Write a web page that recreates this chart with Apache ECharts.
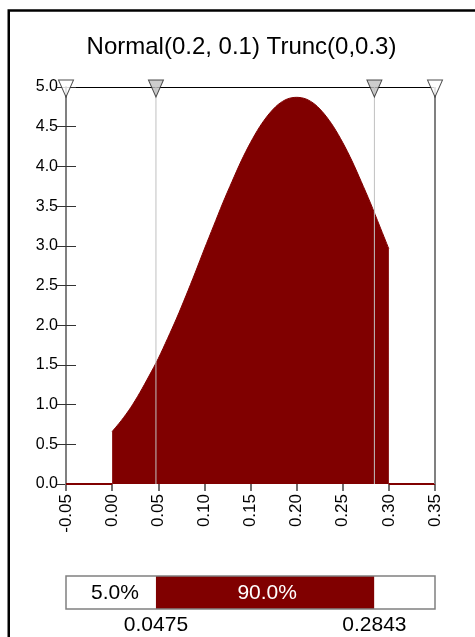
<!DOCTYPE html>
<html>
<head>
<meta charset="utf-8">
<script src="https://cdn.jsdelivr.net/npm/echarts@6/dist/echarts.min.js"></script>
<style>html,body{margin:0;padding:0;background:#fff}#c{width:475px;height:637px}</style>
</head>
<body>
<div id="c"></div>
<script>
const titleText = 'Normal(0.2, 0.1) Trunc(0,0.3)';
const xMin = -0.05, xMax = 0.35, xStep = 0.05;
const yMin = 0, yMax = 5, yStep = 0.5;
const densityX = [0.00,0.01,0.02,0.03,0.04,0.05,0.06,0.07,0.08,0.09,0.10,0.11,0.12,0.13,0.14,0.15,0.16,0.17,0.18,0.19,0.20,0.21,0.22,0.23,0.24,0.25,0.26,0.27,0.28,0.29,0.30];
const densityY = [0.66,0.80,0.96,1.15,1.36,1.58,1.83,2.09,2.37,2.66,2.96,3.25,3.54,3.81,4.07,4.30,4.50,4.66,4.78,4.85,4.87,4.85,4.78,4.66,4.50,4.30,4.07,3.81,3.54,3.25,2.96];
const baseLeft = [-0.05, 0.00];
const baseRight = [0.30, 0.35];
const percentileValues = [0.0475, 0.2843];
const endMarkers = [-0.05, 0.35];
const segmentPcts = ['5.0%', '90.0%', ''];

const RED = '#800000';
const FONT = '"Liberation Sans", Arial, sans-serif';

const curveData = densityX.map((x, i) => [x, densityY[i]]);
const segBounds = [xMin, percentileValues[0], percentileValues[1], xMax];
const segData = segmentPcts.map((p, i) => [segBounds[i], segBounds[i + 1], i]);

const chart = echarts.init(document.getElementById('c'), null, {renderer: 'canvas'});
const option = {
  animation: false,
  backgroundColor: '#fff',
  graphic: [
    {type: 'rect', shape: {x: 8.75, y: 10.5, width: 600, height: 700}, style: {fill: 'none', stroke: '#000', lineWidth: 2.5}, z: 100},
    {type: 'text', x: 241.5, y: 47, style: {text: titleText, font: '24px ' + FONT, fill: '#000', textAlign: 'center', textVerticalAlign: 'middle'}}
  ],
  grid: [
    {left: 66, right: 40, top: 87, bottom: 153, containLabel: false},
    {left: 66, right: 40, top: 576, height: 33, containLabel: false}
  ],
  xAxis: [
    {type: 'value', gridIndex: 0, min: xMin, max: xMax, interval: xStep, position: 'bottom',
     axisLine: {show: false, onZero: false}, splitLine: {show: false},
     axisTick: {show: true, length: 7, lineStyle: {color: '#707070', width: 2}},
     axisLabel: {rotate: 90, margin: 10, fontSize: 17, fontFamily: FONT, color: '#000',
       formatter: v => v.toFixed(2)}},
    {type: 'value', gridIndex: 0, min: xMin, max: xMax, position: 'top',
     axisLine: {show: true, onZero: false, lineStyle: {color: '#000', width: 1}},
     axisTick: {show: false}, axisLabel: {show: false}, splitLine: {show: false}},
    {type: 'value', gridIndex: 1, min: xMin, max: xMax, show: false}
  ],
  yAxis: [
    {type: 'value', gridIndex: 0, min: yMin, max: yMax, interval: yStep, position: 'left',
     axisLine: {show: true, onZero: false, lineStyle: {color: '#808080', width: 2}},
     axisTick: {show: true, length: 9, lineStyle: {color: '#333', width: 1}},
     axisLabel: {margin: 8, fontSize: 16, fontFamily: FONT, color: '#000', formatter: v => v.toFixed(1)},
     splitLine: {show: false}},
    {type: 'value', gridIndex: 0, min: yMin, max: yMax, interval: yStep, position: 'left',
     axisLine: {show: false, onZero: false},
     axisTick: {show: true, inside: true, length: 10, lineStyle: {color: '#333', width: 1}},
     axisLabel: {show: false}, splitLine: {show: false}},
    {type: 'value', gridIndex: 1, min: 0, max: 1, show: false}
  ],
  series: [
    {type: 'line', xAxisIndex: 0, yAxisIndex: 0, data: curveData, smooth: 0.3, symbol: 'none',
     lineStyle: {color: RED, width: 1}, areaStyle: {color: RED, opacity: 1, origin: 'start'}, z: 2},
    {type: 'line', xAxisIndex: 0, yAxisIndex: 0, data: baseLeft.map(x => [x, 0]), symbol: 'none',
     lineStyle: {color: RED, width: 2}, z: 2},
    {type: 'line', xAxisIndex: 0, yAxisIndex: 0, data: baseRight.map(x => [x, 0]), symbol: 'none',
     lineStyle: {color: RED, width: 2}, z: 2},
    {type: 'line', xAxisIndex: 0, yAxisIndex: 0, data: [[percentileValues[0], yMin], [percentileValues[0], yMax]], symbol: 'none',
     lineStyle: {color: '#c0c0c0', width: 1}, z: 3},
    {type: 'line', xAxisIndex: 0, yAxisIndex: 0, data: [[percentileValues[1], yMin], [percentileValues[1], yMax]], symbol: 'none',
     lineStyle: {color: '#c0c0c0', width: 1}, z: 3},
    {type: 'line', xAxisIndex: 0, yAxisIndex: 0, data: [[endMarkers[1], yMin], [endMarkers[1], yMax]], symbol: 'none',
     lineStyle: {color: '#808080', width: 2}, z: 3},
    {type: 'scatter', xAxisIndex: 0, yAxisIndex: 0, clip: false, symbol: 'triangle', symbolRotate: 180,
     symbolSize: [15, 17], symbolOffset: [0, 1.5],
     data: percentileValues.map(x => [x, yMax]),
     itemStyle: {color: '#c0c0c0', borderColor: '#222', borderWidth: 1}, z: 10},
    {type: 'scatter', xAxisIndex: 0, yAxisIndex: 0, clip: false, symbol: 'triangle', symbolRotate: 180,
     symbolSize: [15, 17], symbolOffset: [0, 1.5],
     data: endMarkers.map(x => [x, yMax]),
     itemStyle: {color: '#fff', borderColor: '#222', borderWidth: 1}, z: 10},
    {type: 'custom', xAxisIndex: 2, yAxisIndex: 2, data: segData, clip: false,
     renderItem: function (params, api) {
       const i = api.value(2);
       const p0 = api.coord([api.value(0), 1]);
       const p1 = api.coord([api.value(1), 0]);
       const mid = i === 1;
       return {type: 'group', children: [
         {type: 'rect', shape: {x: p0[0], y: p0[1], width: p1[0] - p0[0], height: p1[1] - p0[1]},
          style: {fill: mid ? RED : '#fff'}},
         {type: 'text', style: {text: segmentPcts[i], x: (p0[0] + p1[0]) / 2 + (i === 0 ? 4 : 2), y: (p0[1] + p1[1]) / 2 + 1,
          textAlign: 'center', textVerticalAlign: 'middle', font: '21px ' + FONT, fill: mid ? '#fff' : '#000'}}
       ]};
     }, z: 2},
    {type: 'custom', xAxisIndex: 2, yAxisIndex: 2, data: [[xMin, xMax]], clip: false,
     renderItem: function (params, api) {
       const p0 = api.coord([api.value(0), 1]);
       const p1 = api.coord([api.value(1), 0]);
       return {type: 'rect', shape: {x: p0[0], y: p0[1], width: p1[0] - p0[0], height: p1[1] - p0[1]},
         style: {fill: 'none', stroke: '#808080', lineWidth: 1.5}};
     }, z: 4},
    {type: 'custom', xAxisIndex: 2, yAxisIndex: 2, data: percentileValues.map(v => [v]), clip: false,
     renderItem: function (params, api) {
       const p = api.coord([api.value(0), 0]);
       return {type: 'text', style: {text: api.value(0).toFixed(4), x: p[0], y: p[1] + 16,
         textAlign: 'center', textVerticalAlign: 'middle', font: '21px ' + FONT, fill: '#000'}};
     }, z: 4}
  ]
};
chart.setOption(option);
</script>
</body>
</html>
